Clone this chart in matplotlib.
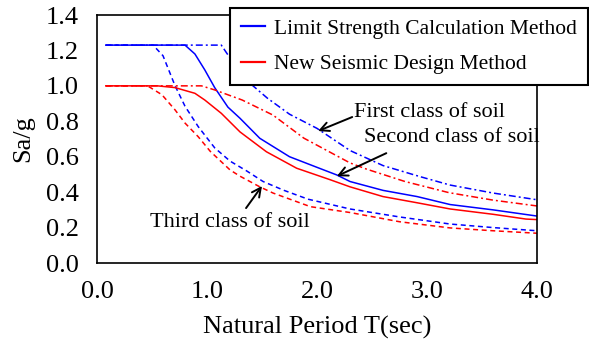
import matplotlib
matplotlib.use("Agg")
import matplotlib.pyplot as plt

plt.rcParams['font.family'] = ['Liberation Serif', 'DejaVu Serif']
plt.rcParams['lines.scale_dashes'] = False

# Limit Strength Calculation Method (blue)
ls1_t = [0.08, 1.13, 1.25, 1.39, 1.55, 1.75, 2.0, 2.30, 2.6, 2.94, 3.21, 3.6, 4.0]
ls1_sa = [1.23, 1.23, 1.12, 1.015, 0.93, 0.84, 0.76, 0.635, 0.55, 0.487, 0.44, 0.395, 0.357]
ls2_t = [0.08, 0.80, 0.89, 0.98, 1.07, 1.19, 1.30, 1.48, 1.75, 2.0, 2.18, 2.30, 2.60, 2.91, 3.21, 3.6, 4.0]
ls2_sa = [1.23, 1.23, 1.18, 1.09, 0.99, 0.88, 0.817, 0.704, 0.60, 0.54, 0.497, 0.46, 0.41, 0.375, 0.33, 0.30, 0.265]
ls3_t = [0.08, 0.51, 0.60, 0.71, 0.80, 0.92, 1.07, 1.21, 1.36, 1.51, 1.70, 1.92, 2.30, 2.75, 3.21, 3.6, 4.0]
ls3_sa = [1.23, 1.23, 1.17, 1.0, 0.885, 0.77, 0.65, 0.575, 0.52, 0.46, 0.41, 0.36, 0.305, 0.26, 0.22, 0.20, 0.182]

# New Seismic Design Method (red)
ns1_t = [0.08, 0.95, 1.07, 1.32, 1.60, 1.88, 2.30, 2.45, 2.8, 3.2, 3.6, 4.0]
ns1_sa = [1.0, 1.0, 0.977, 0.92, 0.835, 0.705, 0.565, 0.53, 0.46, 0.397, 0.355, 0.322]
ns2_t = [0.08, 0.55, 0.71, 0.89, 0.98, 1.13, 1.30, 1.54, 1.815, 2.12, 2.30, 2.60, 2.91, 3.21, 3.6, 3.9, 4.0]
ns2_sa = [1.0, 1.0, 0.99, 0.958, 0.92, 0.845, 0.74, 0.628, 0.535, 0.47, 0.43, 0.375, 0.34, 0.305, 0.275, 0.248, 0.245]
ns3_t = [0.08, 0.46, 0.59, 0.71, 0.80, 0.92, 1.03, 1.21, 1.30, 1.48, 1.60, 1.94, 2.30, 2.75, 3.21, 3.6, 4.0]
ns3_sa = [1.0, 1.0, 0.95, 0.864, 0.79, 0.713, 0.63, 0.525, 0.49, 0.43, 0.395, 0.318, 0.285, 0.233, 0.198, 0.182, 0.168]

x_ticks = [0.0, 1.0, 2.0, 3.0, 4.0]
y_ticks = [0.0, 0.2, 0.4, 0.6, 0.8, 1.0, 1.2, 1.4]

blue = '#0000FF'
red = '#FF0000'
lw = 1.1
dashed = (0, (3.6, 2.6))
dashdot = (0, (5.0, 2.2, 1.4, 2.2))

fig = plt.figure(figsize=(5.89, 3.45), dpi=100)
ax = fig.add_axes([97 / 589, 1 - 263 / 345, 440 / 589, 248 / 345])

ax.plot(ls1_t, ls1_sa, color=blue, lw=lw, linestyle=dashdot)
ax.plot(ls2_t, ls2_sa, color=blue, lw=lw, label='Limit Strength Calculation Method')
ax.plot(ls3_t, ls3_sa, color=blue, lw=lw, linestyle=dashed)
ax.plot(ns1_t, ns1_sa, color=red, lw=lw, linestyle=dashdot)
ax.plot(ns2_t, ns2_sa, color=red, lw=lw, label='New Seismic Design Method')
ax.plot(ns3_t, ns3_sa, color=red, lw=lw, linestyle=dashed)

ax.set_xlim(0, 4)
ax.set_ylim(0, 1.4)
ax.set_xticks(x_ticks)
ax.set_xticklabels([f'{v:.1f}' for v in x_ticks])
ax.set_yticks(y_ticks)
ax.set_yticklabels([f'{v:.1f}' for v in y_ticks])
ax.tick_params(length=0, labelsize=19, pad=13)
for s in ax.spines.values():
    s.set_linewidth(1.2)
ax.set_xlabel('Natural Period T(sec)', fontsize=19, labelpad=9)
ax.set_ylabel('Sa/g', fontsize=19, labelpad=8)

# soil class labels with arrows
arrow = dict(arrowstyle='->', lw=1.4, color='black', shrinkA=0, shrinkB=0, mutation_scale=16)
ax.text(2.34, 0.847, 'First class of soil', fontsize=16, va='center', ha='left')
ax.annotate('', xy=(2.01, 0.745), xytext=(2.32, 0.824), arrowprops=arrow)
ax.text(2.43, 0.706, 'Second class of soil', fontsize=16, va='center', ha='left')
ax.annotate('', xy=(2.18, 0.49), xytext=(2.63, 0.62), arrowprops=arrow)
ax.text(0.48, 0.226, 'Third class of soil', fontsize=16, va='center', ha='left')
ax.annotate('', xy=(1.5, 0.435), xytext=(1.355, 0.31), arrowprops=arrow)

handles, labels = ax.get_legend_handles_labels()
leg = fig.legend(handles, labels, loc='upper right', bbox_to_anchor=(588 / 589, 1 - 8 / 345),
                 fontsize=15.5, frameon=True, fancybox=False, framealpha=1,
                 edgecolor='black', borderpad=0.5, handlelength=1.1,
                 handletextpad=0.45, labelspacing=0.72, borderaxespad=0)
leg.get_frame().set_linewidth(1.5)
for line in leg.get_lines():
    line.set_linewidth(1.6)

fig.savefig('out.png', dpi=100)
